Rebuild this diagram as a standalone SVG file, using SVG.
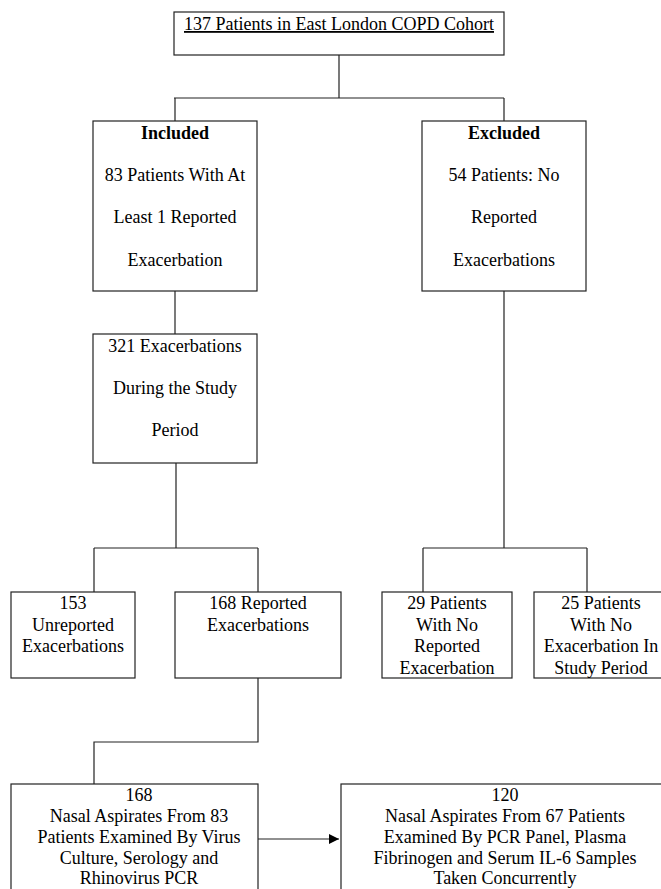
<svg xmlns="http://www.w3.org/2000/svg" width="661" height="889" viewBox="0 0 661 889">
<defs>
<style>
.box{fill:#fff;stroke:#222;stroke-width:1.2}
.ln{fill:none;stroke:#222;stroke-width:1.2}
text{font-family:"Liberation Serif","Times New Roman",serif;font-size:18px;fill:#000;text-anchor:middle}
.b{font-weight:bold}
</style>
<marker id="arr" viewBox="0 0 10 10" refX="10" refY="5" markerWidth="12" markerHeight="10" markerUnits="userSpaceOnUse" orient="auto">
<path d="M0,0 L10,5 L0,10 z" fill="#000"/>
</marker>
</defs>
<rect width="661" height="889" fill="#fff"/>
<g id="connectors">
<path class="ln" d="M339,55 V98 M174,98 H504 M175,98 V121 M504,98 V121"/>
<path class="ln" d="M175,291 V334"/>
<path class="ln" d="M176,463 V548 M94,548 H258 M94,548 V592 M258,548 V592"/>
<path class="ln" d="M504,291 V548 M423,548 H587 M423,548 V592 M587,548 V592"/>
<path class="ln" d="M258,678 V742 H94 V784"/>
<path class="ln" d="M258,839 H339" marker-end="url(#arr)"/>
</g>
<g id="cohort">
<rect class="box" x="174" y="12" width="330" height="43"/>
<text x="339" y="30" text-decoration="underline">137 Patients in East London COPD Cohort</text>
</g>
<g id="included">
<rect class="box" x="93" y="121" width="164" height="170"/>
<text class="b" x="175" y="139">Included</text>
<text x="175" y="181">83 Patients With At</text>
<text x="175" y="223">Least 1 Reported</text>
<text x="175" y="266">Exacerbation</text>
</g>
<g id="excluded">
<rect class="box" x="422" y="121" width="164" height="170"/>
<text class="b" x="504" y="139">Excluded</text>
<text x="504" y="181">54 Patients: No</text>
<text x="504" y="223">Reported</text>
<text x="504" y="266">Exacerbations</text>
</g>
<g id="exacerbations321">
<rect class="box" x="93" y="334" width="164" height="129"/>
<text x="175" y="352">321 Exacerbations</text>
<text x="175" y="394">During the Study</text>
<text x="175" y="436">Period</text>
</g>
<g id="unreported153">
<rect class="box" x="11" y="592" width="124" height="86"/>
<text x="73" y="609">153</text>
<text x="73" y="630.5">Unreported</text>
<text x="73" y="652">Exacerbations</text>
</g>
<g id="reported168">
<rect class="box" x="175" y="592" width="166" height="86"/>
<text x="258" y="609">168 Reported</text>
<text x="258" y="630.5">Exacerbations</text>
</g>
<g id="patients29">
<rect class="box" x="382" y="592" width="130" height="86"/>
<text x="447" y="609">29 Patients</text>
<text x="447" y="630.5">With No</text>
<text x="447" y="652">Reported</text>
<text x="447" y="673.5">Exacerbation</text>
</g>
<g id="patients25">
<rect class="box" x="534" y="592" width="134" height="86"/>
<text x="601" y="609">25 Patients</text>
<text x="601" y="630.5">With No</text>
<text x="601" y="652">Exacerbation In</text>
<text x="601" y="673.5">Study Period</text>
</g>
<g id="aspirates168">
<rect class="box" x="11" y="784" width="247" height="120"/>
<text x="139" y="801">168</text>
<text x="139" y="822">Nasal Aspirates From 83</text>
<text x="139" y="843">Patients Examined By Virus</text>
<text x="139" y="864">Culture, Serology and</text>
<text x="139" y="884">Rhinovirus PCR</text>
</g>
<g id="aspirates120">
<rect class="box" x="341" y="784" width="328" height="120"/>
<text x="505" y="801">120</text>
<text x="505" y="822">Nasal Aspirates From 67 Patients</text>
<text x="505" y="843">Examined By PCR Panel, Plasma</text>
<text x="505" y="864">Fibrinogen and Serum IL-6 Samples</text>
<text x="505" y="884">Taken Concurrently</text>
</g>
</svg>
